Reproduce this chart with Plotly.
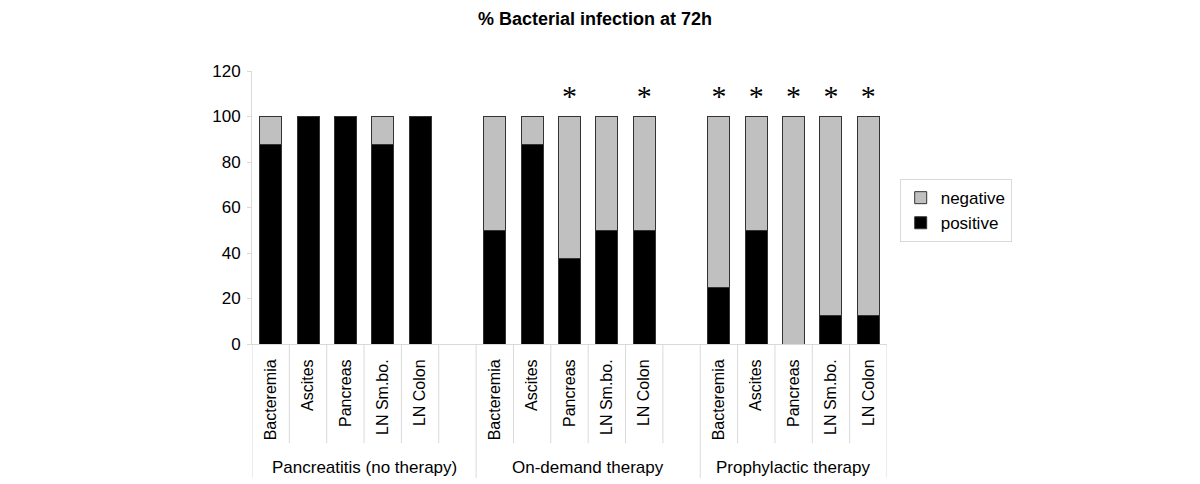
import plotly.graph_objects as go

# ---- data ----
groups = ["Pancreatitis (no therapy)", "On-demand therapy", "Prophylactic therapy"]
sites = ["Bacteremia", "Ascites", "Pancreas", "LN Sm.bo.", "LN Colon"]
positive = [
    [87.5, 100, 100, 87.5, 100],
    [50, 87.5, 37.5, 50, 50],
    [25, 50, 0, 12.5, 12.5],
]
negative = [
    [12.5, 0, 0, 12.5, 0],
    [50, 12.5, 62.5, 50, 50],
    [75, 50, 100, 87.5, 87.5],
]
significant = [
    [False, False, False, False, False],
    [False, False, True, False, True],
    [True, True, True, True, True],
]
star_level = 108

# ---- build category slots (blank slot after first two groups) ----
xs, labels, pos_vals, neg_vals, star_x = [], [], [], [], []
group_bounds = []
k = 0
for gi, g in enumerate(groups):
    start = k
    for si, s in enumerate(sites):
        xs.append(k)
        labels.append(s)
        pos_vals.append(positive[gi][si])
        neg_vals.append(negative[gi][si])
        if significant[gi][si]:
            star_x.append(k)
        k += 1
    if gi < len(groups) - 1:
        xs.append(k)
        labels.append("")
        pos_vals.append(None)
        neg_vals.append(None)
        k += 1
    group_bounds.append((start, k))
n_slots = k

FONT = "Liberation Sans, Arial, sans-serif"
LINE = "#d9d9d9"

fig = go.Figure()
fig.add_trace(go.Bar(
    x=xs, y=pos_vals, name="positive", width=0.59,
    marker=dict(color="#000000", line=dict(color="#333333", width=1)),
))
fig.add_trace(go.Bar(
    x=xs, y=neg_vals, name="negative", width=0.59,
    marker=dict(color="#c0c0c0", line=dict(color="#333333", width=1)),
))
fig.add_trace(go.Scatter(
    x=star_x, y=[star_level] * len(star_x), mode="text", text=["*"] * len(star_x),
    textfont=dict(family="Liberation Serif, Times New Roman, serif", size=30, color="#000"),
    textposition="middle center", showlegend=False, hoverinfo="skip",
))

shapes = []
for i in range(n_slots + 1):
    is_group_edge = i == 0 or any(i == b[1] for b in group_bounds)
    shapes.append(dict(
        type="line", xref="x", yref="paper", x0=i - 0.5, x1=i - 0.5,
        y0=0, y1=-0.49 if is_group_edge else -0.363,
        line=dict(color=LINE, width=1),
    ))

annotations = []
for (a, b), g in zip(group_bounds, groups):
    annotations.append(dict(
        x=(a + b - 1) / 2, y=-0.452, xref="x", yref="paper", text=g, showarrow=False,
        font=dict(family=FONT, size=17, color="#000"), yanchor="middle",
    ))

fig.update_layout(
    width=1200, height=484,
    barmode="stack",
    paper_bgcolor="white", plot_bgcolor="white",
    margin=dict(l=244, r=321, t=63, b=148),
    font=dict(family=FONT, size=16, color="#000"),
    title=dict(text="<b>% Bacterial infection at 72h</b>", x=587 / 1200, xref="container",
               y=1 - 4 / 484, yanchor="top", xanchor="center", pad=dict(t=0, b=0),
               font=dict(family=FONT, size=18, color="#000")),
    xaxis=dict(
        range=[-0.5, n_slots - 0.5], tickvals=xs, ticktext=labels, tickangle=-90,
        showgrid=False, zeroline=False, showline=True, linecolor=LINE, linewidth=1,
        ticks="", ticklabelstandoff=8, tickfont=dict(family=FONT, size=16, color="#000"),
    ),
    yaxis=dict(
        range=[0, 120], dtick=20, showgrid=False, zeroline=False,
        showline=True, linecolor=LINE, linewidth=1, ticks="outside", ticklen=4,
        tickcolor=LINE, ticklabelstandoff=3, tickfont=dict(family=FONT, size=17, color="#000"),
    ),
    legend=dict(
        x=1.02, y=0.604, xanchor="left", yanchor="top", itemwidth=30,
        bordercolor=LINE, borderwidth=1, bgcolor="white",
        font=dict(family=FONT, size=17, color="#000"),
    ),
    shapes=shapes,
    annotations=annotations,
)

fig.write_html("out.html")
